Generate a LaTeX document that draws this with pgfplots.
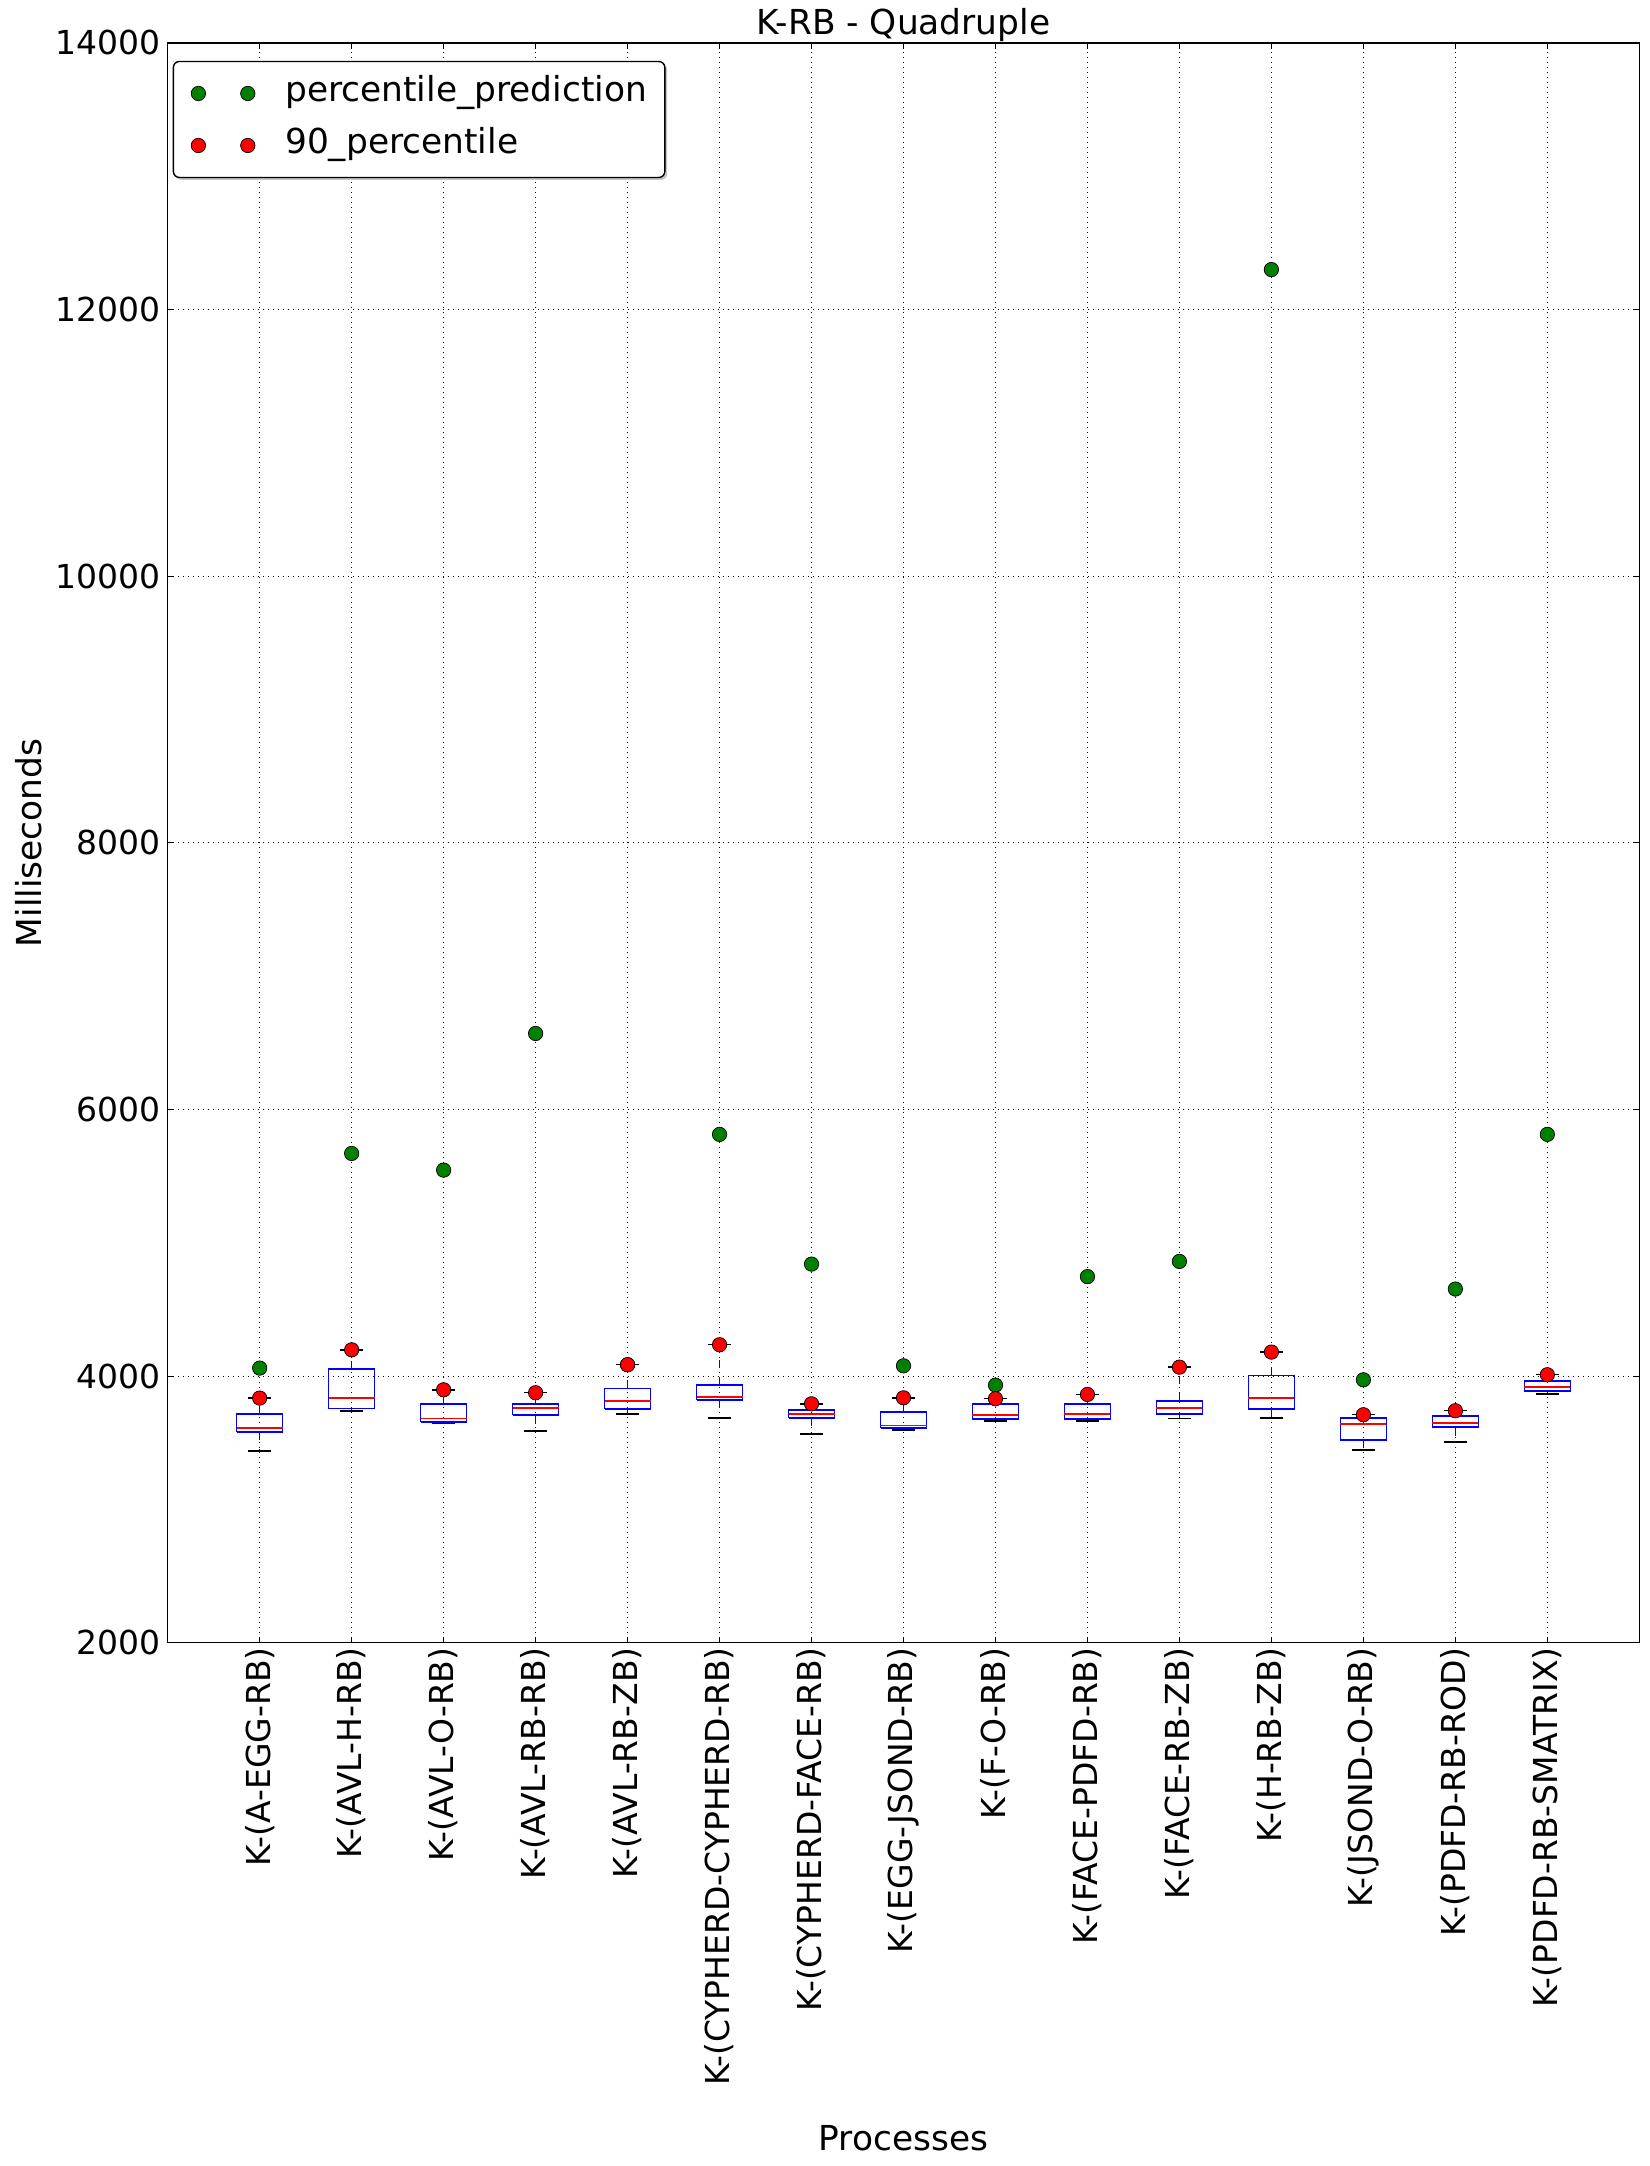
\documentclass[border=0pt]{standalone}
\usepackage{fontspec}
\setmainfont{DejaVu Sans}
\usepackage{pgfplots}
\pgfplotsset{compat=1.18}
\usetikzlibrary{shadows}
\definecolor{mplgreen}{rgb}{0,0.5,0}

\pgfplotsset{dotlegend/.style={legend image code/.code={\draw[##1] plot[only marks] coordinates {(0pt,0pt) (24.7pt,0pt)};}}}

\pgfplotstableread{
x y
1 4060
2 5670
3 5545
4 6570
5 4085
6 5813
7 4840
8 4077
9 3932
10 4746
11 4860
12 12300
13 3972
14 4653
15 5813
}\predtable

\pgfplotstableread{
x y
1 3835
2 4197
3 3897
4 3875
5 4085
6 4235
7 3792
8 3837
9 3830
10 3862
11 4067
12 4180
13 3710
14 3740
15 4010
}\pcttable

% #1 = position, #2 = lower whisker, #3 = lower quartile, #4 = median, #5 = upper quartile, #6 = upper whisker
\newcommand{\bx}[6]{%
  \pgfmathsetmacro\bxl{#1-0.25}%
  \pgfmathsetmacro\bxr{#1+0.25}%
  \pgfmathsetmacro\bcl{#1-0.125}%
  \pgfmathsetmacro\bcr{#1+0.125}%
  \edef\bxdoit{%
    \noexpand\addplot[forget plot, blue, line width=0.7pt, dash pattern=on 4.2pt off 4.2pt] coordinates {(#1,#3) (#1,#2)};
    \noexpand\addplot[forget plot, blue, line width=0.7pt, dash pattern=on 4.2pt off 4.2pt] coordinates {(#1,#5) (#1,#6)};
    \noexpand\addplot[forget plot, black, line width=0.7pt] coordinates {(\bcl,#2) (\bcr,#2)};
    \noexpand\addplot[forget plot, black, line width=0.7pt] coordinates {(\bcl,#6) (\bcr,#6)};
    \noexpand\addplot[forget plot, blue, line width=0.7pt, line join=miter] coordinates {(\bxl,#3) (\bxr,#3) (\bxr,#5) (\bxl,#5) (\bxl,#3)};
    \noexpand\addplot[forget plot, red, line width=0.7pt] coordinates {(\bxl,#4) (\bxr,#4)};
  }%
  \bxdoit
}

\begin{document}
\begin{tikzpicture}
\begin{axis}[
  scale only axis, width=735.8pt, height=799.85pt,
  xmin=0, xmax=16, ymin=2000, ymax=14000,
  xtick={1,...,15},
  xticklabels={K-(A-EGG-RB), K-(AVL-H-RB), K-(AVL-O-RB), K-(AVL-RB-RB), K-(AVL-RB-ZB),
    K-(CYPHERD-CYPHERD-RB), K-(CYPHERD-FACE-RB), K-(EGG-JSOND-RB), K-(F-O-RB),
    K-(FACE-PDFD-RB), K-(FACE-RB-ZB), K-(H-RB-ZB), K-(JSOND-O-RB), K-(PDFD-RB-ROD),
    K-(PDFD-RB-SMATRIX)},
  ytick={2000,4000,...,14000},
  scaled y ticks=false,
  /pgf/number format/assume math mode=true,
  /pgf/number format/1000 sep={},
  yticklabel={\pgfmathprintnumber[fixed, precision=0]{\tick}},
  tick label style={font=\fontsize{16.5}{19}\selectfont},
  yticklabel style={inner sep=3.2pt},
  xticklabel style={rotate=90, anchor=east, inner sep=2.2pt},
  tick align=inside, xtick pos=both, ytick pos=both,
  major tick length=2.8pt,
  tick style={black, line width=0.5pt},
  axis line style={black, line width=0.7pt},
  grid=major,
  major grid style={black, line width=0.4pt, dash pattern=on 0.5pt off 2pt},
  title={K-RB - Quadruple},
  every axis title/.style={at={(axis description cs:0.5,1)}, anchor=base, yshift=4pt, inner sep=0pt, font=\fontsize{17.2}{20}\selectfont},
  xlabel={Processes},
  ylabel={Milliseconds},
  every axis x label/.style={at={(axis description cs:0.5,0)}, anchor=base, yshift=-253.7pt, inner sep=0pt, font=\fontsize{17.2}{20}\selectfont},
  every axis y label/.style={at={(axis description cs:-0.08542,0.5)}, rotate=90, anchor=base, inner sep=0pt, font=\fontsize{17.2}{20}\selectfont},
  legend cell align=left,
  legend style={at={(axis description cs:0,1)}, anchor=north west, xshift=2.5pt, yshift=-8.9pt,
    draw=black, line width=0.7pt, rounded corners=3pt, fill=white,
    drop shadow={shadow xshift=1.2pt, shadow yshift=-1.2pt, fill=black!45},
    font=\fontsize{17.2}{20}\selectfont,
    inner xsep=8.9pt, inner ysep=7.75pt, row sep=9.5pt, column sep=15.1pt,
    nodes={text height=12.5pt, text depth=4pt, inner sep=0pt}},
]
\bx{1}{3437}{3580}{3612}{3715}{3835}
\bx{2}{3737}{3755}{3835}{4052}{4197}
\bx{3}{3647}{3655}{3680}{3790}{3897}
\bx{4}{3587}{3707}{3760}{3790}{3875}
\bx{5}{3715}{3752}{3812}{3905}{4085}
\bx{6}{3687}{3820}{3842}{3932}{4235}
\bx{7}{3565}{3685}{3715}{3745}{3792}
\bx{8}{3595}{3610}{3630}{3730}{3837}
\bx{9}{3662}{3677}{3707}{3790}{3830}
\bx{10}{3662}{3677}{3715}{3790}{3862}
\bx{11}{3680}{3715}{3760}{3812}{4067}
\bx{12}{3687}{3752}{3835}{4005}{4180}
\bx{13}{3445}{3520}{3640}{3685}{3710}
\bx{14}{3505}{3617}{3647}{3700}{3740}
\bx{15}{3865}{3887}{3917}{3962}{4010}

\addplot[only marks, mark=*, mark size=3.6pt, mark options={fill=mplgreen, draw=black, line width=0.35pt}, dotlegend]
  table[x=x, y=y] {\predtable};
\addlegendentry{percentile\_prediction}
\addplot[only marks, mark=*, mark size=3.6pt, mark options={fill=red, draw=black, line width=0.35pt}, dotlegend]
  table[x=x, y=y] {\pcttable};
\addlegendentry{90\_percentile}
\end{axis}
\pgfresetboundingbox
\path[use as bounding box] (-83.85pt,-261.65pt) rectangle (740.65pt,821.35pt);
\end{tikzpicture}
\end{document}
